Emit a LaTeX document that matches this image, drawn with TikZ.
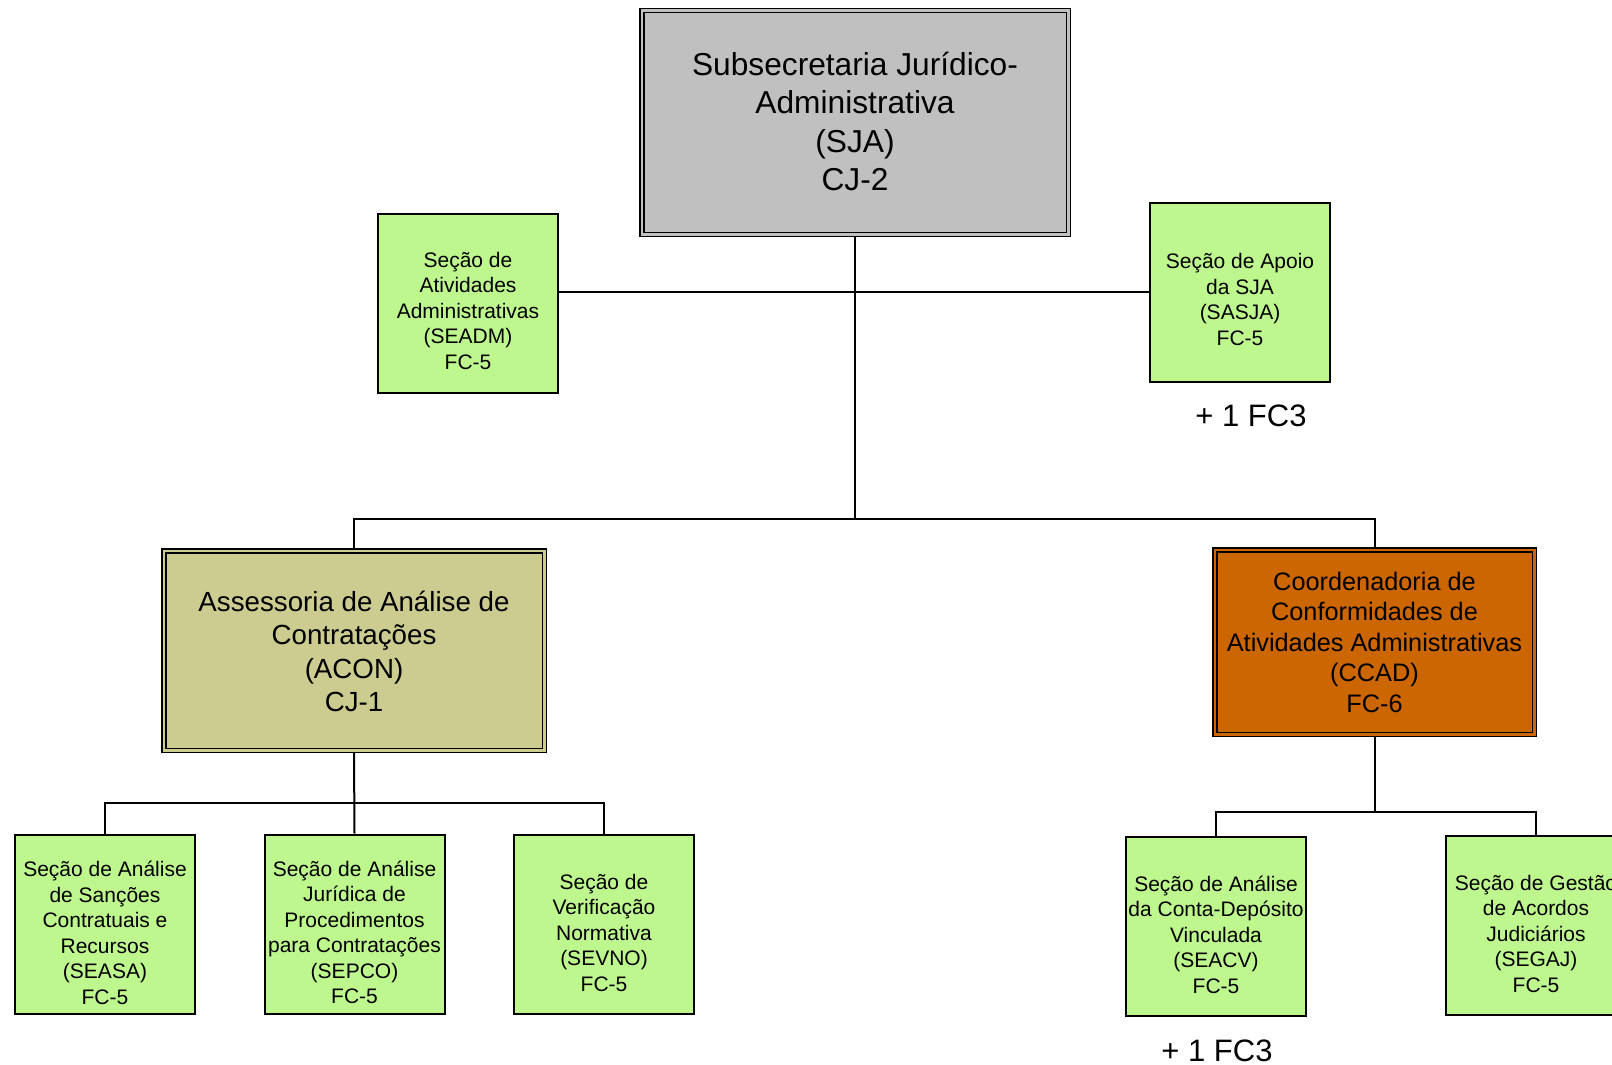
\documentclass[tikz,border=0pt]{standalone}
\usepackage{fontspec}
\setmainfont{Liberation Sans}
\definecolor{sjagray}{RGB}{192,192,192}
\definecolor{secgreen}{RGB}{191,247,143}
\definecolor{aconkhaki}{RGB}{204,204,144}
\definecolor{ccadorange}{RGB}{204,102,0}
\begin{document}
\begin{tikzpicture}[x=1pt,y=-1pt,
  conn/.style={draw=black,line width=2pt},
  bigbox/.style={draw=black,line width=1.5pt,double distance=2.5pt,outer sep=2.75pt,inner sep=0pt},
  sbox/.style={draw=black,line width=2pt,fill=secgreen,minimum width=180pt,minimum height=179pt,inner sep=0pt},
  stext/.style={align=center,inner sep=0pt,font=\fontsize{21}{25.5}\selectfont},
  extra/.style={anchor=base,inner sep=0pt,font=\fontsize{31}{37}\selectfont}]
\useasboundingbox (0,0) rectangle (1612,1065);
% main boxes
\node[bigbox,fill=sjagray,double=sjagray,minimum width=426.5pt,minimum height=223.5pt] (sja) at (855,122.5) {};
\node[align=center,inner sep=0pt,font=\fontsize{31.7}{38.4}\selectfont] (sjat) at ([yshift=1pt]sja.center) {Subsecretaria Jurídico-\\Administrativa\\(SJA)\\CJ-2};
\node[bigbox,fill=aconkhaki,double=aconkhaki,minimum width=380.5pt,minimum height=199.5pt] (acon) at (354,650.5) {};
\node[align=center,inner sep=0pt,font=\fontsize{27.7}{33.5}\selectfont] (acont) at ([yshift=-1pt]acon.center) {Assessoria de Análise de\\Contratações\\(ACON)\\CJ-1};
\node[bigbox,fill=ccadorange,double=ccadorange,minimum width=319.5pt,minimum height=184.5pt] (ccad) at (1374.5,642) {};
\node[align=center,inner sep=0pt,font=\fontsize{25.3}{30.5}\selectfont] (ccadt) at (ccad.center) {Coordenadoria de\\Conformidades de\\Atividades Administrativas\\(CCAD)\\FC-6};
% sections
\node[sbox] (seadm) at (468,303.5) {};
\node[stext] at ([yshift=-7pt]seadm.center) {Seção de\\Atividades\\Administrativas\\(SEADM)\\FC-5};
\node[sbox] (sasja) at (1240,292.5) {};
\node[stext] at ([yshift=-7pt]sasja.center) {Seção de Apoio\\da SJA\\(SASJA)\\FC-5};
\node[sbox] (seasa) at (105,924.5) {};
\node[stext] at ([yshift=-8.5pt]seasa.center) {Seção de Análise\\de Sanções\\Contratuais e\\Recursos\\(SEASA)\\FC-5};
\node[sbox] (sepco) at (354.5,924) {};
\node[stext] at ([yshift=-8.5pt]sepco.center) {Seção de Análise\\Jurídica de\\Procedimentos\\para Contratações\\(SEPCO)\\FC-5};
\node[sbox] (sevno) at (604,924) {};
\node[stext] at ([yshift=-8.5pt]sevno.center) {Seção de\\Verificação\\Normativa\\(SEVNO)\\FC-5};
\node[sbox] (seacv) at (1216,926.5) {};
\node[stext] at ([yshift=-8pt]seacv.center) {Seção de Análise\\da Conta-Depósito\\Vinculada\\(SEACV)\\FC-5};
\node[sbox] (segaj) at (1536,925.5) {};
\node[stext] at ([yshift=-8pt]segaj.center) {Seção de Gestão\\de Acordos\\Judiciários\\(SEGAJ)\\FC-5};
% extra labels
\node[extra] (fc3a) at (1251,426) {+ 1 FC3};
\node[extra] (fc3b) at (1217,1061) {+ 1 FC3};
% bus coordinates
\coordinate (busA) at (855,292);
\coordinate (busB) at (855,519);
\coordinate (busC) at (354,803);
\coordinate (busD) at (1374.5,812);
% connectors
\draw[conn] (sja.south) -- (busB);
\draw[conn] (seadm.east |- busA) -- (sasja.west |- busA);
\draw[conn] (acon.north) |- (busB) -| (ccad.north);
\draw[conn] (acon.south) -- (sepco.north);
\draw[conn] (seasa.north) |- (busC) -| (sevno.north);
\draw[conn] (ccad.south) -- (busD);
\draw[conn] (seacv.north) |- (busD) -| (segaj.north);
\end{tikzpicture}
\end{document}
